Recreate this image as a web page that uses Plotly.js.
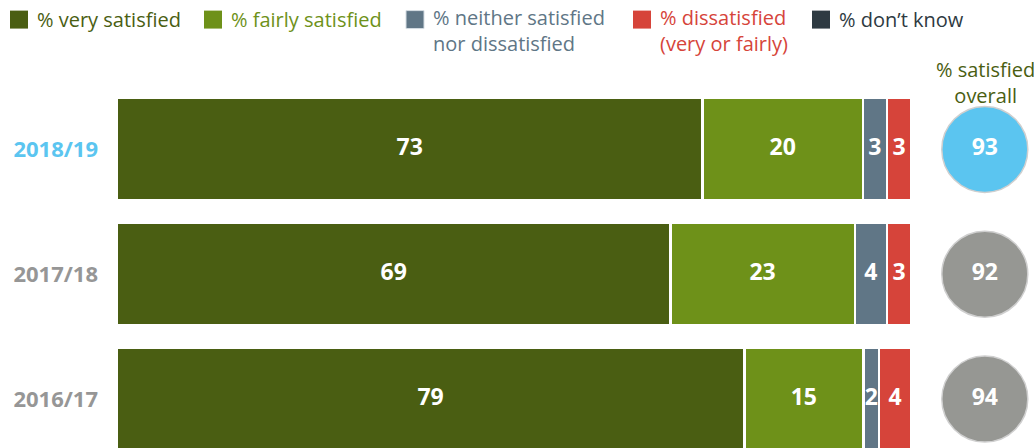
<!DOCTYPE html>
<html>
<head>
<meta charset="utf-8">
<script src="https://cdn.plot.ly/plotly-3.0.1.min.js"></script>
<style>html,body{margin:0;padding:0;background:#fff;}#chart{width:1034px;height:448px;}</style>
</head>
<body>
<div id="chart"></div>
<script>
// ---- data ----
const years = ['2018/19', '2017/18', '2016/17'];
const verySatisfied = [73, 69, 79];
const fairlySatisfied = [20, 23, 15];
const neitherSatisfied = [3, 4, 2];
const dissatisfied = [3, 3, 4];
const dontKnow = [0, 0, 0];
const satisfiedOverall = [93, 92, 94];
const seriesNames = ['% very satisfied', '% fairly satisfied', '% neither satisfied<br>nor dissatisfied', '% dissatisfied<br>(very or fairly)', '% don\u2019t know'];
const overallTitle = '% satisfied<br>overall';

// ---- styles ----
const seriesColors = ['#4A5E12', '#6E9119', '#607686', '#D6443A', '#2E3A42'];
const legendTextColors = ['#4A5E12', '#6E9119', '#607686', '#D6443A', '#2E3A42'];
const yearColors = ['#5BC5F0', '#969793', '#969793'];
const yearLabelColors = ['#5BC5F0', '#969696', '#969696'];
const FONT = 'Open Sans, Noto Sans, sans-serif';

const W = 1034, H = 448;
const mL = 117, mR = 0, mT = 86.5, mB = 0;
const plotW = W - mL - mR, plotH = H - mT - mB;
const px = x => (x - mL) / plotW;
const py = y => 1 - (y - mT) / plotH;
const barEnd = 911;

const seriesValues = [verySatisfied, fairlySatisfied, neitherSatisfied, dissatisfied, dontKnow];

const traces = seriesValues.map((vals, i) => ({
  type: 'bar',
  orientation: 'h',
  y: years,
  x: vals,
  name: seriesNames[i].replace('<br>', ' '),
  marker: {color: seriesColors[i], line: {color: '#ffffff', width: 2.5}},
  showlegend: false,
  hoverinfo: 'skip'
}));

// value labels at the centre of each (normalised) segment
const totals = years.map((_, r) => seriesValues.reduce((s, vals) => s + vals[r], 0));
const labelX = [], labelY = [], labelT = [];
years.forEach((yr, r) => {
  let cum = 0;
  seriesValues.forEach(vals => {
    const v = vals[r];
    if (v > 0) {
      labelX.push((cum + v / 2) / totals[r] * 100);
      labelY.push(yr);
      labelT.push(String(v));
    }
    cum += v;
  });
});
traces.push({
  type: 'scatter', mode: 'text', x: labelX, y: labelY, text: labelT,
  textposition: 'middle center',
  textfont: {family: FONT, size: 23, color: '#ffffff', weight: 'bold'},
  showlegend: false, hoverinfo: 'skip', cliponaxis: false
});

traces.push({
  type: 'scatter',
  mode: 'markers+text',
  xaxis: 'x2',
  yaxis: 'y',
  x: years.map(() => 0.6),
  y: years,
  text: satisfiedOverall.map(String),
  textposition: 'middle center',
  textfont: {family: FONT, size: 23, color: '#ffffff', weight: 'bold'},
  marker: {size: 86, color: yearColors, line: {color: '#cfcfcf', width: 1.5}},
  showlegend: false,
  hoverinfo: 'skip',
  cliponaxis: false
});

// legend (manual, to match square size and coloured texts)
const legendX = [10, 204, 406, 633, 812];
const shapes = [];
const annotations = [];
seriesNames.forEach((name, i) => {
  shapes.push({
    type: 'rect', xref: 'paper', yref: 'paper',
    x0: px(legendX[i]), x1: px(legendX[i] + 18), y0: py(28), y1: py(10),
    fillcolor: seriesColors[i], line: {width: i === 2 ? 1 : 0, color: '#d5dde3'}
  });
  const twoLines = name.indexOf('<br>') >= 0;
  annotations.push({
    xref: 'paper', yref: 'paper', x: px(legendX[i] + 25), y: py(twoLines ? 1 : 3.5),
    xanchor: 'left', yanchor: 'top', align: 'left', showarrow: false, text: name,
    font: {family: FONT, size: 20, color: legendTextColors[i]}
  });
});
annotations.push({
  xref: 'paper', yref: 'paper', x: px(985), y: py(53),
  xanchor: 'center', yanchor: 'top', align: 'center', showarrow: false, text: overallTitle,
  font: {family: FONT, size: 20, color: '#4A5E12'}
});

const layout = {
  width: W, height: H,
  margin: {l: mL, r: mR, t: mT, b: mB, pad: 0},
  paper_bgcolor: '#ffffff', plot_bgcolor: '#ffffff',
  barmode: 'stack', barnorm: 'percent', bargap: 0.18,
  font: {family: FONT},
  xaxis: {domain: [0, (barEnd - mL) / plotW], range: [0, 100], visible: false, fixedrange: true},
  xaxis2: {domain: [(barEnd - mL) / plotW, 1], range: [0, 1], visible: false, anchor: 'y', fixedrange: true},
  yaxis: {
    type: 'category', categoryorder: 'array', categoryarray: years,
    range: [(H - 149) / 125, -0.5],
    showgrid: false, zeroline: false, showline: false, ticks: '',
    tickvals: years,
    ticktext: years.map((y, i) => '<span style="color:' + yearLabelColors[i] + '"><b>' + y + '</b></span>'),
    tickfont: {family: FONT, size: 22},
    ticklabelstandoff: 18,
    fixedrange: true
  },
  shapes: shapes,
  annotations: annotations,
  showlegend: false
};

Plotly.newPlot('chart', traces, layout, {displayModeBar: false, staticPlot: true});
</script>
</body>
</html>
